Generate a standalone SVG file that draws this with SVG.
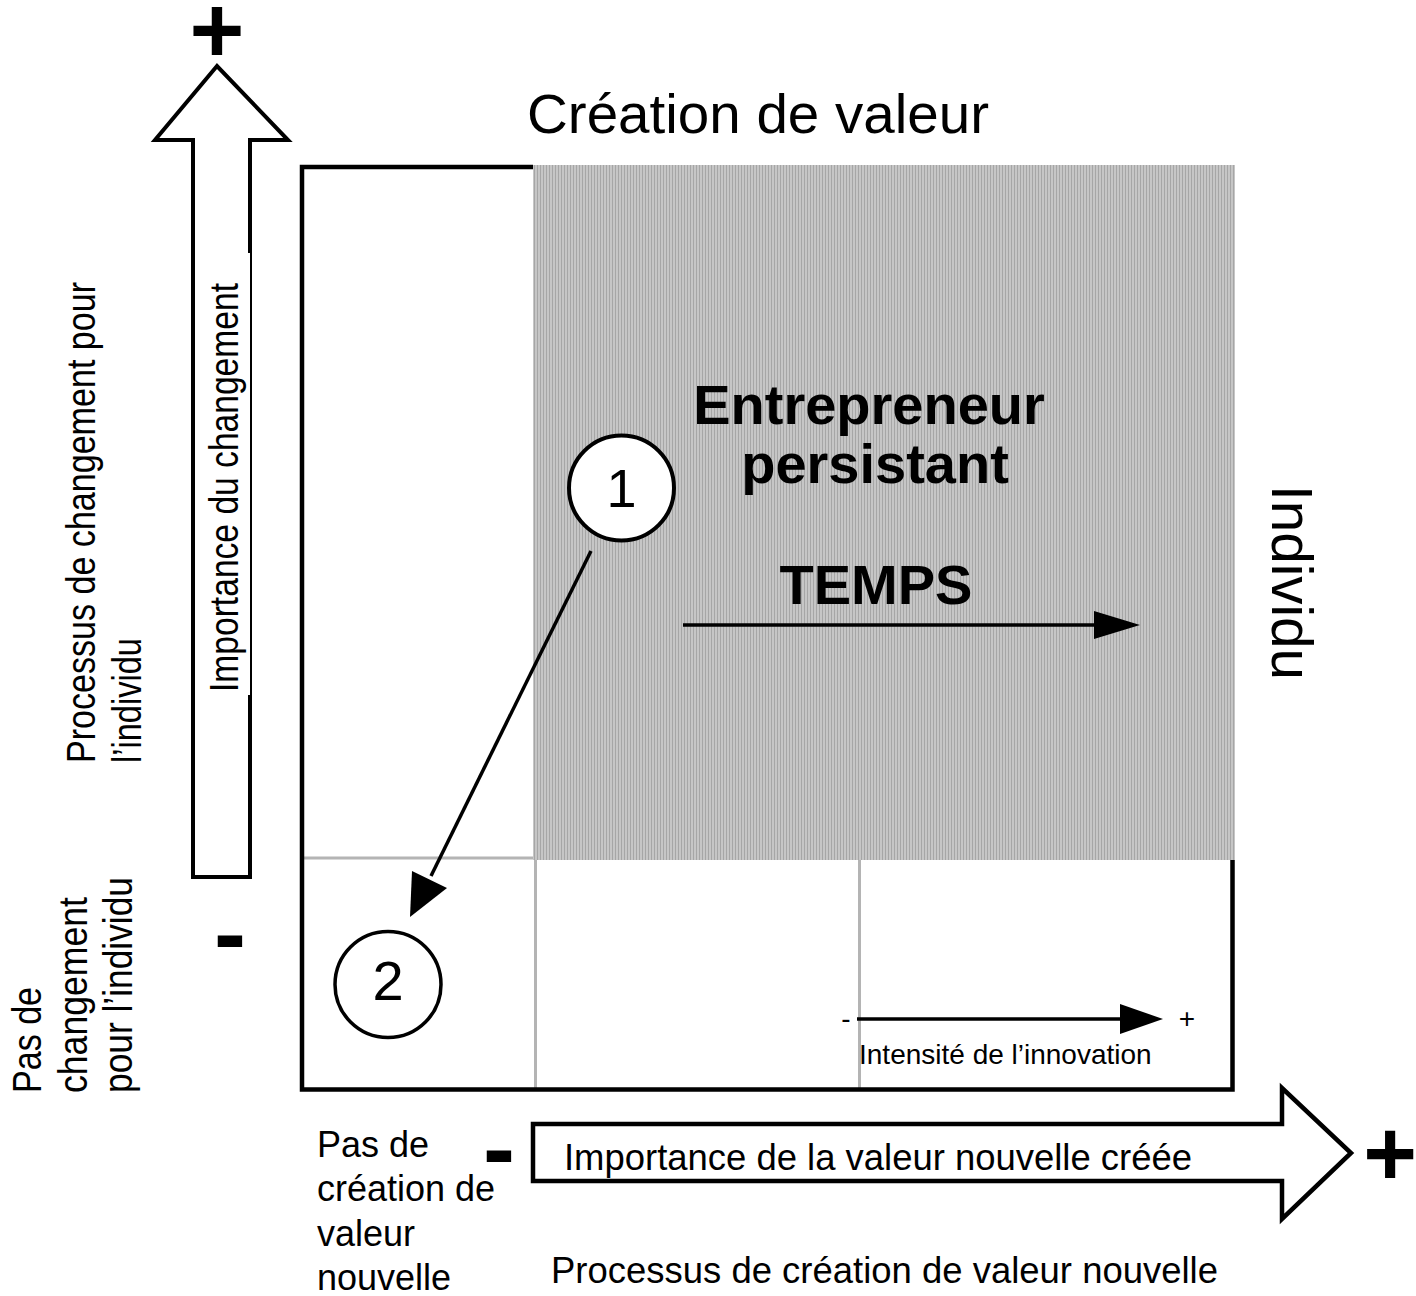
<svg xmlns="http://www.w3.org/2000/svg" width="1416" height="1296" viewBox="0 0 1416 1296">
<style>
text{font-family:"Liberation Sans",Arial,sans-serif;fill:#000}
.bold{font-weight:bold}
.edge{stroke:#000;fill:none}
.grid{stroke:#b4b4b4;stroke-width:3;fill:none}
.lbl40{font-size:40px}
</style>
<defs>
<pattern id="stripes" width="3" height="4" patternUnits="userSpaceOnUse">
<rect width="3" height="4" fill="#c6c6c6"/>
<rect width="1" height="4" fill="#a6a6a6"/>
</pattern>
</defs>
<rect width="1416" height="1296" fill="#fff"/>

<g id="title">
<text x="527" y="133" font-size="56" textLength="462" lengthAdjust="spacingAndGlyphs">Création de valeur</text>
</g>

<g id="matrix">
<rect x="533" y="165" width="702" height="695" fill="url(#stripes)"/>
<line class="grid" x1="304" y1="858" x2="533" y2="858"/>
<line class="grid" x1="535.5" y1="860" x2="535.5" y2="1088"/>
<line class="grid" x1="859.5" y1="860" x2="859.5" y2="1088"/>
<path class="edge" stroke-width="4.5" d="M533,167 H302 V1089.5 H1232.5 V860"/>
</g>

<g id="quadrant-label">
<text x="869" y="424" font-size="56" class="bold" text-anchor="middle">Entrepreneur</text>
<text x="875" y="483" font-size="56" class="bold" text-anchor="middle">persistant</text>
<text x="876" y="604" font-size="56" class="bold" text-anchor="middle">TEMPS</text>
</g>

<g id="y-axis">
<polygon class="edge" stroke-width="4" fill="#fff" points="217,66 155,140 193,140 193,877 250,877 250,140 288,140"/>
<rect x="246" y="253" width="4" height="442" fill="#fff"/>
<text x="217" y="62" font-size="94" class="bold" text-anchor="middle">+</text>
<text x="230" y="966" font-size="96" class="bold" text-anchor="middle">-</text>
<text class="lbl40" transform="translate(238,692) rotate(-90)" textLength="409" lengthAdjust="spacingAndGlyphs">Importance du changement</text>
<text class="lbl40" transform="translate(95,763) rotate(-90)" textLength="481" lengthAdjust="spacingAndGlyphs">Processus de changement pour</text>
<text class="lbl40" transform="translate(141,763) rotate(-90)" textLength="125" lengthAdjust="spacingAndGlyphs">l’individu</text>
<text class="lbl40" transform="translate(41,1093) rotate(-90)" textLength="106" lengthAdjust="spacingAndGlyphs">Pas de</text>
<text class="lbl40" transform="translate(87,1093) rotate(-90)" textLength="196" lengthAdjust="spacingAndGlyphs">changement</text>
<text class="lbl40" transform="translate(132,1093) rotate(-90)" textLength="216" lengthAdjust="spacingAndGlyphs">pour l’individu</text>
</g>

<g id="right-label">
<text font-size="58" transform="translate(1272,485) rotate(90)" textLength="195" lengthAdjust="spacingAndGlyphs">Individu</text>
</g>

<g id="x-axis">
<polygon class="edge" stroke-width="4.5" fill="#fff" points="533,1124 1282,1124 1282,1088 1351,1153 1282,1219 1282,1181 533,1181"/>
<text x="564" y="1170" font-size="36" textLength="628" lengthAdjust="spacingAndGlyphs">Importance de la valeur nouvelle créée</text>
<text x="499" y="1181" font-size="96" class="bold" text-anchor="middle">-</text>
<text x="1390" y="1185" font-size="92" class="bold" text-anchor="middle">+</text>
<text x="317" y="1157" font-size="36">Pas de</text>
<text x="317" y="1201" font-size="36">création de</text>
<text x="317" y="1246" font-size="36">valeur</text>
<text x="317" y="1290" font-size="36">nouvelle</text>
<text x="551" y="1283" font-size="36" textLength="667" lengthAdjust="spacingAndGlyphs">Processus de création de valeur nouvelle</text>
</g>

<g id="node-1">
<circle cx="621.5" cy="488" r="52.5" fill="#fff" stroke="#000" stroke-width="4"/>
<text x="621.5" y="507" font-size="54" text-anchor="middle">1</text>
</g>

<g id="node-2">
<circle cx="388" cy="984.5" r="53" fill="#fff" stroke="#000" stroke-width="3.5"/>
<text x="388" y="1000" font-size="56" text-anchor="middle">2</text>
</g>

<g id="intensity">
<text x="846" y="1028" font-size="28" text-anchor="middle">-</text>
<text x="1187" y="1028" font-size="28" text-anchor="middle">+</text>
<text x="859" y="1064" font-size="28">Intensité de l’innovation</text>
</g>

<g id="connectors" fill="#000" stroke="#000">
<line x1="591" y1="551" x2="431" y2="876" stroke-width="3.5"/>
<polygon stroke="none" points="410,917 412,871 447,888"/>
<line x1="683" y1="625" x2="1100" y2="625" stroke-width="3.5"/>
<polygon stroke="none" points="1094,611 1140,625 1094,639"/>
<line x1="857" y1="1019" x2="1124" y2="1019" stroke-width="3.5"/>
<polygon stroke="none" points="1120,1004 1163,1019 1120,1034"/>
</g>
</svg>
